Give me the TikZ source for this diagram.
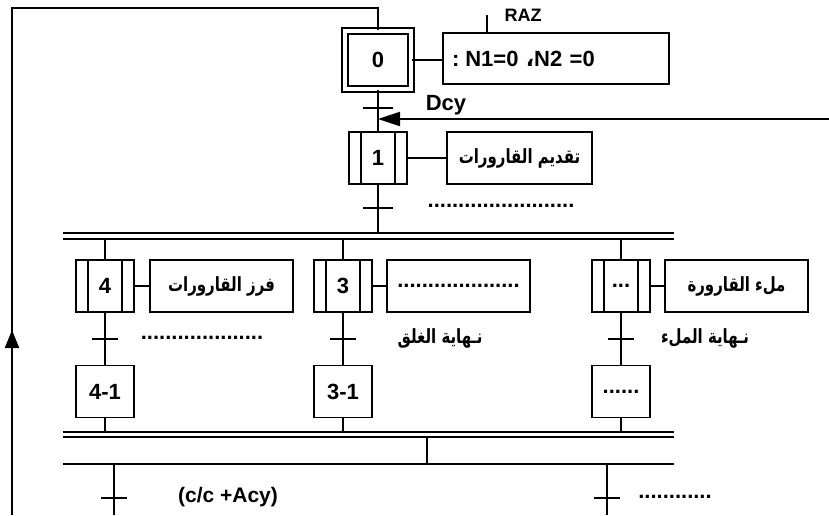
\documentclass[tikz,border=0pt]{standalone}
\usepackage{fontspec}
\setmainfont{Liberation Sans}
\newfontfamily\arabicfont[Script=Arabic]{DejaVu Sans}
\TeXXeTstate=1
\usetikzlibrary{arrows.meta}
\newcommand{\artxt}[1]{\scalebox{0.88}[1.15]{\arabicfont\bfseries\fontsize{17}{20}\selectfont\beginR #1\endR}}
\begin{document}
\begin{tikzpicture}[x=1pt,y=-1pt,line width=1.9pt,
  every node/.style={font=\bfseries\fontsize{22}{24}\selectfont, inner sep=0pt},
  stepbox/.style={draw, minimum width=58, minimum height=52},
  actstep/.style={stepbox, path picture={
      \draw[line width=1.9pt] ([xshift=12pt]path picture bounding box.north west) -- ([xshift=12pt]path picture bounding box.south west);
      \draw[line width=1.9pt] ([xshift=-12pt]path picture bounding box.north east) -- ([xshift=-12pt]path picture bounding box.south east);}},
  initstep/.style={draw, double, double distance=4.2pt, minimum width=66, minimum height=58.5},
  actbox/.style={draw, minimum width=143, minimum height=52},
  smallfont/.style={font=\bfseries\fontsize{18}{20}\selectfont}]
\useasboundingbox (0,0) rectangle (829,515);

% steps and actions
\node[initstep] (s0) at (378,60) {0};
\node[draw, minimum height=51, text width=208, align=left, inner xsep=9pt] (a0) at (556,58.5) {:\hspace{6pt}N1=0 {\arabicfont ،}N2 =0};
\node[actstep] (s1) at (378,158) {1};
\node[actbox, minimum width=145] (a1) at (519.5,158) {\artxt{تقديم القارورات}};

\node[actstep] (s4) at (105,286) {4};
\node[actbox] (a4) at (221.5,286) {\artxt{فرز القارورات}};
\node[actstep] (s3) at (343,286) {3};
\node[actbox] (a3) at (458.5,286) {....................};
\node[actstep] (s5) at (621,286) {...};
\node[actbox] (a5) at (736.5,286) {\artxt{ملء القارورة}};

\node[stepbox] (s41) at (105,391.5) {4-1};
\node[stepbox] (s31) at (343,391.5) {3-1};
\node[stepbox] (s51) at (621,391.5) {......};

% step-action links
\draw (s0.east) -- (a0.west |- s0.east);
\draw (s1.east) -- (a1.west);
\draw (s4.east) -- (a4.west);
\draw (s3.east) -- (a3.west);
\draw (s5.east) -- (a5.west);

% RAZ
\coordinate (raz) at (487,15);
\draw (raz) -- (raz |- a0.north);
\node[smallfont] (razl) at (523,15) {RAZ};

% main line
\draw (s0.south) -- (s1.north);
\coordinate (d1a) at (63,233); \coordinate (d1b) at (674,233);
\coordinate (d2a) at (63,239); \coordinate (d2b) at (674,239);
\draw (d1a) -- (d1b);
\draw (d2a) -- (d2b);
\draw (s1.south) -- (s1.south |- d1a);
\draw (s4.north) -- (s4.north |- d2a);
\draw (s3.north) -- (s3.north |- d2a);
\draw (s5.north) -- (s5.north |- d2a);
\draw (s4.south) -- (s41.north);
\draw (s3.south) -- (s31.north);
\draw (s5.south) -- (s51.north);

\coordinate (d3a) at (63,432); \coordinate (d3b) at (674,432);
\coordinate (d4a) at (63,437); \coordinate (d4b) at (674,437);
\draw (d3a) -- (d3b);
\draw (d4a) -- (d4b);
\draw (s41.south) -- (s41.south |- d3a);
\draw (s31.south) -- (s31.south |- d3a);
\draw (s51.south) -- (s51.south |- d3a);

\coordinate (m1) at (427,437); \coordinate (m2) at (427,464);
\draw (m1) -- (m2);
\coordinate (sa) at (63,464); \coordinate (sb) at (674,464);
\draw (sa) -- (sb);
\coordinate (b1t) at (114,464); \coordinate (b1b) at (114,515);
\draw (b1t) -- (b1b);
\coordinate (b2t) at (607,464); \coordinate (b2b) at (607,515);
\draw (b2t) -- (b2b);

% transitions
\coordinate (t0) at (378,108);
\draw ([xshift=-15pt]t0) -- ([xshift=15pt]t0);
\coordinate (t1) at (378,208);
\draw ([xshift=-15pt]t1) -- ([xshift=15pt]t1);
\coordinate (t4) at (105,339);
\draw ([xshift=-13pt]t4) -- ([xshift=13pt]t4);
\coordinate (t3) at (343,339);
\draw ([xshift=-13pt]t3) -- ([xshift=13pt]t3);
\coordinate (t5) at (621,339);
\draw ([xshift=-13pt]t5) -- ([xshift=13pt]t5);
\coordinate (tb1) at (114,498);
\draw ([xshift=-13pt]tb1) -- ([xshift=13pt]tb1);
\coordinate (tb2) at (607,498);
\draw ([xshift=-13pt]tb2) -- ([xshift=13pt]tb2);

% transition labels
\node (dcy) at (446,105) {Dcy};
\node (l1) at (501,206) {........................};
\node (l4) at (202,338) {....................};
\node (l3) at (440,338) {\artxt{نـهاية الغلق}};
\node (l5) at (705,338) {\artxt{نـهاية الملء}};
\node[font=\bfseries\fontsize{21}{24}\selectfont] (lc) at (228,497) {(c/c +Acy)};
\node (lr) at (675,497) {............};

% loop back and Dcy input
\coordinate (lb) at (12,515); \coordinate (lt) at (12,8);
\draw (lb) -- (lt) -| (s0.north);
\coordinate (ar1) at (12,352); \coordinate (ar2) at (12,330);
\draw[-{Triangle[length=18pt,width=14pt]}] (ar1) -- (ar2);
\coordinate (dcyin) at (829,119);
\draw[-{Triangle[length=22pt,width=14pt]}] (dcyin) -- (dcyin -| s0);
\end{tikzpicture}
\end{document}
